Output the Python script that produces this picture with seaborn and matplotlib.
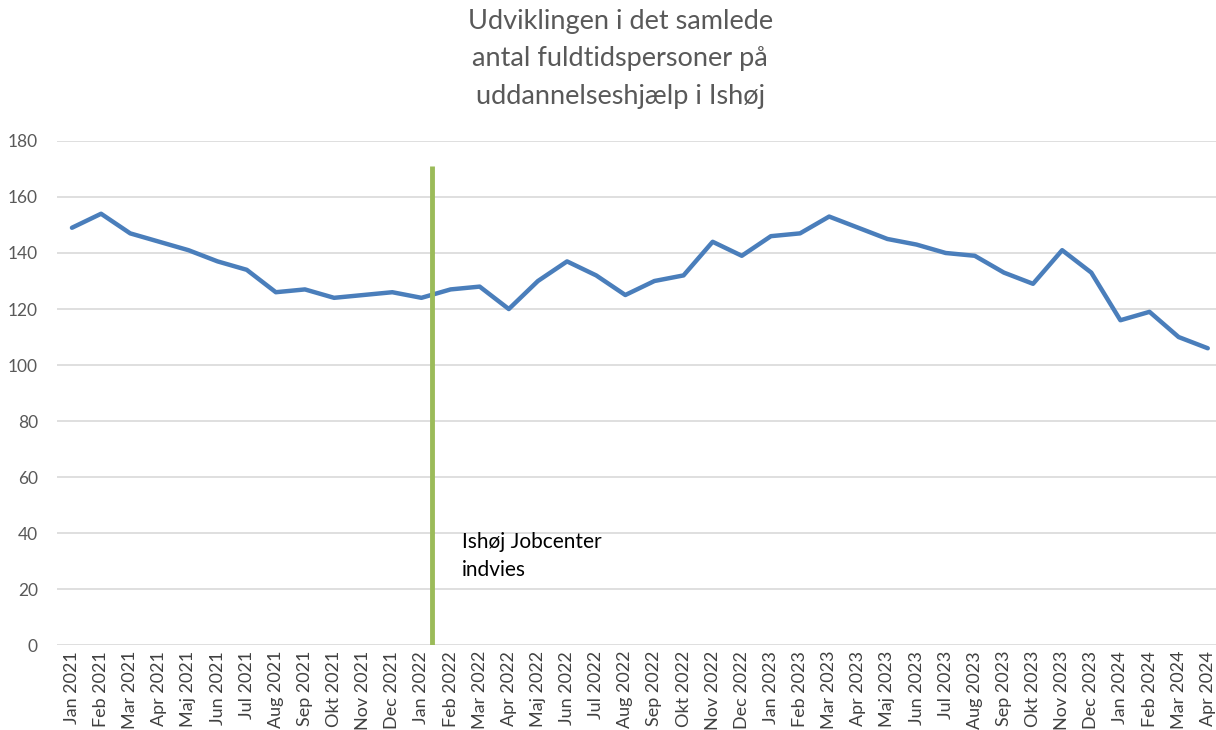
import matplotlib
matplotlib.use("Agg")
import matplotlib.pyplot as plt
import seaborn as sns
import pandas as pd

# Maanedlige vaerdier, aflaest fra figuren
months = ["Jan 2021", "Feb 2021", "Mar 2021", "Apr 2021", "Maj 2021", "Jun 2021",
          "Jul 2021", "Aug 2021", "Sep 2021", "Okt 2021", "Nov 2021", "Dec 2021",
          "Jan 2022", "Feb 2022", "Mar 2022", "Apr 2022", "Maj 2022", "Jun 2022",
          "Jul 2022", "Aug 2022", "Sep 2022", "Okt 2022", "Nov 2022", "Dec 2022",
          "Jan 2023", "Feb 2023", "Mar 2023", "Apr 2023", "Maj 2023", "Jun 2023",
          "Jul 2023", "Aug 2023", "Sep 2023", "Okt 2023", "Nov 2023", "Dec 2023",
          "Jan 2024", "Feb 2024", "Mar 2024", "Apr 2024"]
persons = [149, 154, 147, 144, 141, 137, 134, 126, 127, 124, 125, 126,
           124, 127, 128, 120, 130, 137, 132, 125, 130, 132, 144, 139,
           146, 147, 153, 149, 145, 143, 140, 139, 133, 129, 141, 133,
           116, 119, 110, 106]

title = "Udviklingen i det samlede\nantal fuldtidspersoner på\nuddannelseshjælp i Ishøj"
event_label = "Ishøj Jobcenter\nindvies"
event_pos = 12.35      # lige efter Jan 2022
event_top = 171

df = pd.DataFrame({"month": months, "persons": persons})
df["idx"] = range(len(df))

sns.set_style("white")
plt.rcParams["font.family"] = ["Lato", "DejaVu Sans"]

fig = plt.figure(figsize=(12.16, 7.3), dpi=100)
ax = fig.add_axes([0.0472, 0.116, 0.958, 0.691])

sns.lineplot(data=df, x="idx", y="persons", ax=ax, color="#4a7ebb", linewidth=3.2)

ax.vlines(event_pos, 0, event_top, color="#9bbb59", linewidth=3.5, zorder=3)
ax.text(event_pos + 1.05, 40.5, event_label, fontsize=15, color="black",
        va="top", ha="left", linespacing=1.5)

ax.set_xlim(-0.5, len(months) - 0.5)
ax.set_ylim(0, 180)
ax.set_yticks(range(0, 181, 20))
ax.set_xticks(df["idx"])
ax.set_xticklabels(months, rotation=90, fontsize=13, color="#404040")
ax.tick_params(axis="y", labelsize=12.5, colors="#595959", length=0, pad=14)
ax.tick_params(axis="x", length=0, pad=4)
ax.grid(axis="y", color="#d9d9d9", linewidth=1.2)
ax.set_axisbelow(True)
for s in ax.spines.values():
    s.set_visible(False)
ax.set_xlabel("")
ax.set_ylabel("")

fig.text(0.51, 0.988, title, ha="center", va="top", fontsize=19.5,
         color="#595959", linespacing=1.62)

plt.savefig("out.png", dpi=100)
